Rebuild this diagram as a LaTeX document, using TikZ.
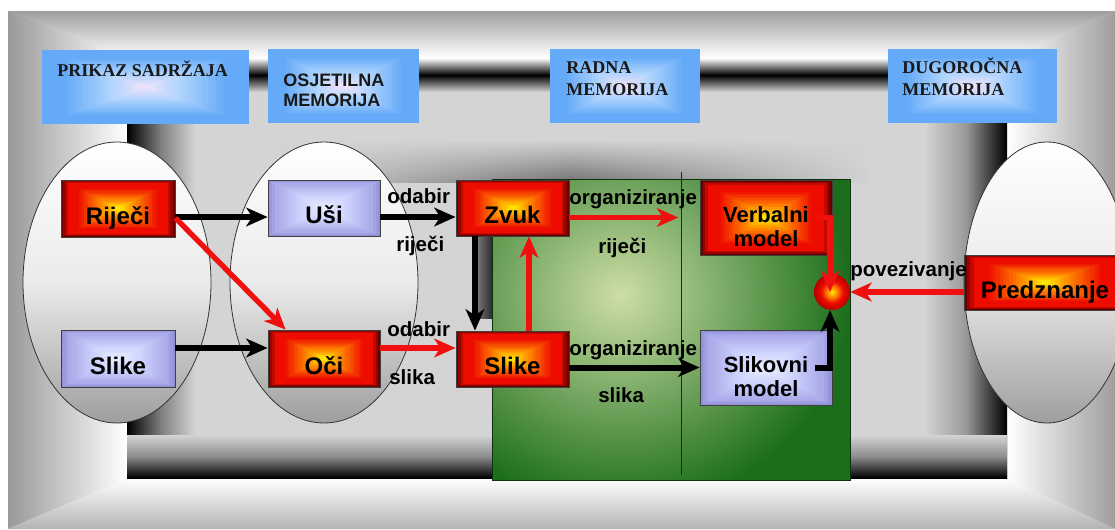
\documentclass[tikz,border=0pt]{standalone}
\usepackage{fontspec}
\setmainfont{Liberation Sans}
\newfontfamily\tnr{Liberation Serif}
\usetikzlibrary{arrows.meta,calc,shapes.geometric,fadings}

\definecolor{RBy}{RGB}{255,232,0}
\definecolor{RBo}{RGB}{255,135,0}
\definecolor{RBr}{RGB}{238,12,0}
\definecolor{RBd}{RGB}{105,0,0}
\definecolor{RBb}{RGB}{185,0,0}
\definecolor{BLc}{RGB}{232,236,255}
\definecolor{BLm}{RGB}{205,210,252}
\definecolor{BLe}{RGB}{172,172,234}
\definecolor{BLk}{RGB}{145,145,215}
\definecolor{HBc}{RGB}{238,226,250}
\definecolor{HBm}{RGB}{175,212,253}
\definecolor{HBe}{RGB}{100,170,248}
\definecolor{GRd}{RGB}{28,110,28}
\definecolor{GRl}{RGB}{205,222,165}
\definecolor{ARr}{RGB}{240,16,16}

\pgfdeclareradialshading{ballglow}{\pgfpoint{0bp}{0bp}}{color(0bp)=(RBy); color(7bp)=(RBo); color(15bp)=(RBr); color(25bp)=(RBb); color(50bp)=(RBd)}
\tikzfading[name=fadeends, left color=transparent!100, right color=transparent!100, middle color=transparent!0]

% rectangular "from centre" gradient: #1 edge, #2 main, #3 mid, #4 centre, #5 #6 break steps
\newcommand\glowfill[6]{%
  \foreach \i in {0,...,24}{%
    \pgfmathtruncatemacro\pa{min(100,\i*34)}%
    \pgfmathtruncatemacro\pb{max(0,min(100,(\i-#5)*100/(#6-#5)))}%
    \pgfmathtruncatemacro\pc{max(0,min(100,(\i-#6)*100/(24-#6)))}%
    \colorlet{gcA}{#2!\pa!#1}%
    \colorlet{gcB}{#3!\pb!gcA}%
    \colorlet{gcC}{#4!\pc!gcB}%
    \fill[gcC] ($(path picture bounding box.south west)!\i/50!(path picture bounding box.north east)$) rectangle ($(path picture bounding box.north east)!\i/50!(path picture bounding box.south west)$);
  }%
}

\tikzset{
  boxfont/.style={font=\fontsize{18}{21}\selectfont\bfseries},
  boxfonttwo/.style={font=\fontsize{16.5}{18}\selectfont\bfseries, align=center},
  redglow/.style={path picture={\glowfill{RBd}{RBr}{RBo}{RBy}{7}{17}}},
  blueglow/.style={path picture={\glowfill{BLk}{BLe}{BLm}{BLc}{4}{14}}},
  hglow/.style={path picture={\glowfill{HBe}{HBe}{HBm}{HBc}{5}{16}}},
  redbox/.style={rectangle, redglow, draw=black!75, line width=0.6pt, boxfont, text height=23.4pt, text depth=0pt, inner sep=2pt},
  bluebox/.style={rectangle, blueglow, draw=black!75, line width=0.6pt, boxfont, text height=23.4pt, text depth=0pt, inner sep=2pt},
  redboxtwo/.style={rectangle, redglow, draw=black!75, line width=0.6pt, boxfonttwo, inner sep=2pt},
  blueboxtwo/.style={rectangle, blueglow, draw=black!75, line width=0.6pt, boxfonttwo, inner sep=2pt},
  hbox/.style={rectangle, hglow, inner sep=0pt},
  ell/.style={ellipse, draw=black!80, line width=0.6pt, shade, top color=white, bottom color=black!38, middle color=black!8, inner sep=0pt},
  lbl/.style={font=\fontsize{15.4}{18}\selectfont\bfseries, inner sep=0pt, anchor=base west},
  htxt/.style={font=\fontsize{13.5}{16.7}\selectfont\bfseries\tnr, inner sep=0pt, align=left, text=black!90},
  blk/.style={draw=black, line width=4.5pt, -{Stealth[length=16pt,width=14pt,inset=4.5pt]}},
  rd/.style={draw=ARr, line width=4pt, -{Stealth[length=16pt,width=14pt,inset=4.5pt]}},
}

\begin{document}
\begin{tikzpicture}[x=0.75pt,y=-0.75pt]
\useasboundingbox (0,0) rectangle (1115,529);
% ---------- background ----------
\fill[white] (0,0) rectangle (1115,529);
\fill[black!20] (8,11) rectangle (1115,529);
\shade[top color=black!38, bottom color=white] (8,11) -- (1115,11) -- (1007,58) -- (127,58) -- cycle;
\shade[left color=black!40, right color=white] (8,11) -- (127,58) -- (127,478) -- (8,529) -- cycle;
\shade[left color=white, right color=black!38] (1115,11) -- (1007,58) -- (1007,478) -- (1115,529) -- cycle;
\shade[top color=white, bottom color=black!30] (8,529) -- (127,478) -- (1007,478) -- (1115,529) -- cycle;
\fill[black!17] (127,58) rectangle (1007,478);
% tube frame
\shade[top color=white, bottom color=black!17, middle color=black] (127,58) rectangle (1007,92);
\shade[left color=black, right color=black!17, middle color=black!50] (127,90) rectangle (195,478);
\shade[left color=black!17, right color=black, middle color=black!40] (925,90) rectangle (1007,478);
\shade[top color=black!17, bottom color=black, middle color=black!45] (127,435) rectangle (1007,478);
% inner shadows
\shade[top color=black!17, bottom color=black!55, path fading=fadeends] (274,140) rectangle (870,182);
\shade[left color=black!55, right color=black!85] (478,180) rectangle (493,318);

% ---------- ellipses ----------
\node[ell, minimum width=141pt, minimum height=210.75pt] (e1) at (117,282.5) {};
\node[ell, minimum width=141pt, minimum height=210.75pt] (e2) at (324,282.5) {};
\node[ell, minimum width=124.5pt, minimum height=210.75pt] (e3) at (1047,282.5) {};

% ---------- green working area ----------
\node[fill=GRd, minimum width=267.75pt, minimum height=225pt, inner sep=0pt] (green) at (671.5,330) {};
\begin{scope}
  \clip (green.south west) rectangle (green.north east);
  \shade[inner color=GRl, outer color=GRd] (620,295) ellipse [x radius=172pt, y radius=160pt];
\end{scope}
\draw[GRd!45!black, line width=0.8pt] (green.south west) rectangle (green.north east);
\draw[black!85, line width=0.6pt] (681,172) -- (681,475);

% ---------- header boxes ----------
\node[hbox, minimum width=155.25pt, minimum height=55.5pt] (hb1) at (145.5,87) {};
\node[hbox, minimum width=113.25pt, minimum height=55.5pt] (hb2) at (343.5,86) {};
\node[hbox, minimum width=112.5pt, minimum height=55.5pt] (hb3) at (625,86) {};
\node[hbox, minimum width=126.75pt, minimum height=55.5pt] (hb4) at (972.5,86) {};
\node[htxt, anchor=base west] (t1) at (57,76) {PRIKAZ SADRŽAJA};
\node[inner sep=0pt, anchor=north west, align=left, font=\fontsize{13.5}{15}\selectfont\bfseries, text=black!90] (t2) at (283,72.4) {\strut OSJETILNA\\MEMORIJA};
\node[htxt, anchor=north west] (t3) at (566,57.4) {\strut RADNA\\MEMORIJA};
\node[htxt, anchor=north west] (t4) at (902,57.4) {\strut DUGOROČNA\\MEMORIJA};

% ---------- boxes ----------
\node[redbox, minimum width=85.5pt, minimum height=42.75pt] (rijeci) at (118,208.5) {Riječi};
\node[bluebox, minimum width=85.5pt, minimum height=42.75pt] (slikeL) at (118,358.5) {Slike};
\node[bluebox, minimum width=84pt, minimum height=42pt] (usi) at (324,208) {Uši};
\node[redbox, minimum width=84pt, minimum height=42.75pt] (oci) at (324,358.5) {Oči};
\node[redbox, minimum width=84.75pt, minimum height=42pt] (zvuk) at (512.5,208) {Zvuk};
\node[redbox, minimum width=84.75pt, minimum height=42pt] (slikeM) at (512.5,359) {Slike};
\node[redboxtwo, minimum width=99pt, minimum height=56.25pt] (verbal) at (766,217.5) {\rule{0pt}{25.5pt}Verbalni\\model};
\node[blueboxtwo, minimum width=99pt, minimum height=56.25pt] (slikovni) at (766,367.5) {\rule{0pt}{25pt}Slikovni\\model};
\node[redbox, minimum width=121.5pt, minimum height=41.25pt] (predz) at (1045,282.5) {Predznanje};
\node[circle, shade, shading=ballglow, minimum size=27pt, inner sep=0pt] (ball) at (832,292) {};

% ---------- labels ----------
\node[lbl] (l1) at (387,203) {odabir};
\node[lbl] (l2) at (396,251) {riječi};
\node[lbl] (l3) at (387,336) {odabir};
\node[lbl] (l4) at (389,384) {slika};
\node[lbl] (l5) at (569,204) {organiziranje};
\node[lbl] (l6) at (598,253) {riječi};
\node[lbl] (l7) at (569,355) {organiziranje};
\node[lbl] (l8) at (598,402) {slika};
\node[lbl] (l9) at (850,276) {povezivanje};

% ---------- connectors ----------
\draw[blk] ($(rijeci.east)+(0,8.5)$) -- ($(usi.west)+(0,9)$);
\draw[blk] ($(usi.east)+(0,9)$) -- ($(zvuk.west)+(0,9)$);
\draw[blk] ($(slikeL.east)+(0,-10.5)$) -- ($(oci.west)+(0,-10.5)$);
\draw[rd] ($(oci.east)+(0,-10.5)$) -- ($(slikeM.west)+(0,-11)$);
\draw[rd] ($(rijeci.east)+(0,9.5)$) -- ($(oci.north west)+(18,0)$);
\draw[blk] ($(zvuk.south)+(-37.5,0)$) -- ($(slikeM.north)+(-37.5,0)$);
\draw[rd] ($(slikeM.north)+(16.5,0)$) -- ($(zvuk.south)+(16.5,0)$);
\draw[rd, shorten >=16pt] (zvuk.east |- verbal.west) -- (verbal.west);
\draw[blk] (slikeM.east |- slikovni.west) -- (slikovni.west);
\draw[rd] ($(verbal.east)+(-15,0)$) -| ($(ball.center)+(-2,0)$);
\draw[blk] ($(slikovni.east)+(-17,0)$) -| ($(ball.south)+(-2,0)$);
\draw[rd] (predz.west |- ball.east) -- (ball.east);
\end{tikzpicture}
\end{document}
